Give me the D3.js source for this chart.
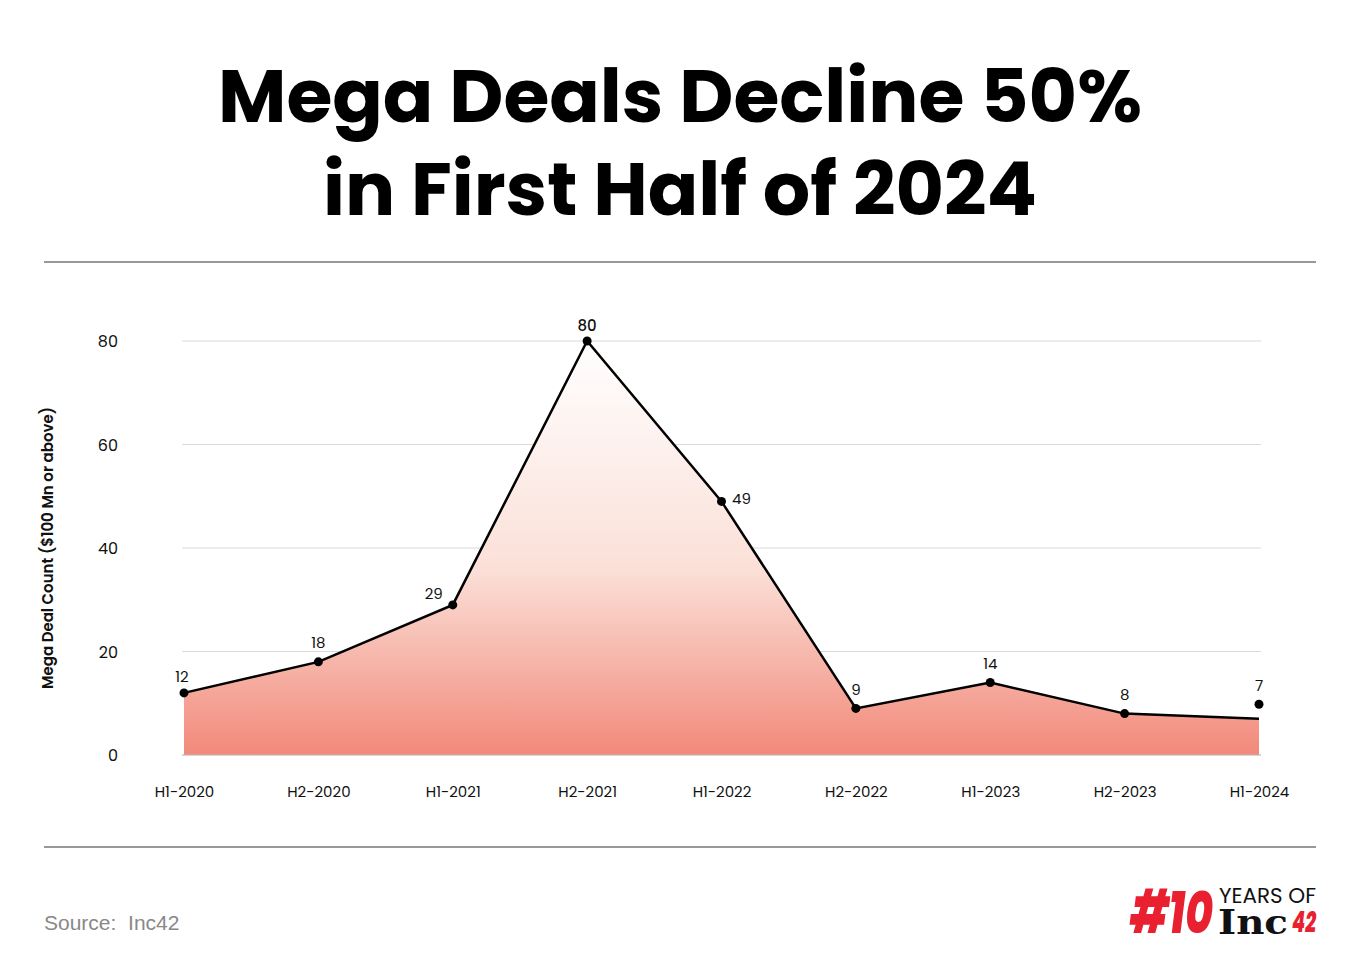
<!DOCTYPE html>
<html><head><meta charset="utf-8">
<script src="https://cdn.jsdelivr.net/npm/d3@7"></script>
<style>body{margin:0;background:#fff;} svg{display:block;}</style>
</head><body>
<script>
const categories = ["H1-2020","H2-2020","H1-2021","H2-2021","H1-2022","H2-2022","H1-2023","H2-2023","H1-2024"];
const values = [12,18,29,80,49,9,14,8,7];
const markerValues = [12,18,29,80,49,9,14,8,9.8];
const labelPlacement = ["above","above","left","above","right","above","above","above","above"];
const yTicks = [0,20,40,60,80];
const titleLines = ["Mega Deals Decline 50%","in First Half of 2024"];

const W=1360,H=967;
const svg=d3.select("body").append("svg").attr("width",W).attr("height",H);
const font="Poppins, Inter, 'DejaVu Sans', sans-serif";

svg.selectAll("text.title").data(titleLines).join("text")
  .attr("x",680).attr("y",(d,i)=>122+i*93).attr("text-anchor","middle")
  .attr("font-family",font).attr("font-weight",700).attr("font-size",74.5)
  .attr("fill","#000").text(d=>d);

svg.append("line").attr("x1",44).attr("x2",1316).attr("y1",262).attr("y2",262).attr("stroke","#333").attr("stroke-width",1.2);
svg.append("line").attr("x1",44).attr("x2",1316).attr("y1",847).attr("y2",847).attr("stroke","#333").attr("stroke-width",1.2);

const x=d3.scalePoint().domain(categories).range([184,1259]);
const y=d3.scaleLinear().domain([0,80]).range([755,341]);

const defs=svg.append("defs");
const g=defs.append("linearGradient").attr("id","grad").attr("gradientUnits","userSpaceOnUse")
  .attr("x1",0).attr("x2",0).attr("y1",y(80)).attr("y2",y(0));
g.append("stop").attr("offset","0%").attr("stop-color","#ffffff");
g.append("stop").attr("offset","55%").attr("stop-color","#fbe0d8");
g.append("stop").attr("offset","100%").attr("stop-color","#f2897a");

svg.selectAll("line.grid").data(yTicks).join("line")
  .attr("x1",182).attr("x2",1261).attr("y1",d=>y(d)).attr("y2",d=>y(d))
  .attr("stroke","#d9d9d9").attr("stroke-width",1);

const yAxis=svg.append("g").attr("transform","translate(118,0)")
  .call(d3.axisLeft(y).tickValues(yTicks).tickSize(0).tickPadding(0));
yAxis.select(".domain").remove();
yAxis.selectAll("text").attr("font-family",font).attr("font-size",16).attr("fill","#111").attr("text-anchor","end").attr("dy","0.35em");

const area=d3.area().x((d,i)=>x(categories[i])).y0(y(0)).y1(d=>y(d));
svg.append("path").datum(values).attr("d",area).attr("fill","url(#grad)");
svg.append("line").attr("x1",182).attr("x2",1261).attr("y1",y(0)).attr("y2",y(0)).attr("stroke","#bbb").attr("stroke-width",1);

const line=d3.line().x((d,i)=>x(categories[i])).y(d=>y(d));
svg.append("path").datum(values).attr("d",line).attr("fill","none").attr("stroke","#000").attr("stroke-width",2.5);

svg.selectAll("circle.pt").data(markerValues).join("circle")
  .attr("cx",(d,i)=>x(categories[i])).attr("cy",d=>y(d)).attr("r",4.5).attr("fill","#000");

svg.selectAll("text.lbl").data(values).join("text")
  .attr("x",(d,i)=>{const p=labelPlacement[i];const cx=x(categories[i]);return p==="left"?cx-19:p==="right"?cx+20:cx+(i===0?-2:0);})
  .attr("y",(d,i)=>{const p=labelPlacement[i];const cy=y(markerValues[i]);return p==="left"?cy-11:p==="right"?cy-3:cy-(i===0?16:i===3?15:19);})
  .attr("text-anchor","middle").attr("dy","0.35em")
  .attr("font-family",font).attr("font-size",15).attr("font-weight",(d,i)=>i===3?500:400).attr("fill","#111")
  .text(d=>d);

const xAxis=svg.append("g").attr("transform","translate(0,792)")
  .call(d3.axisBottom(x).tickSize(0).tickPadding(0));
xAxis.select(".domain").remove();
xAxis.selectAll("text").attr("font-family",font).attr("font-size",15).attr("fill","#111").attr("dy","0.35em");

svg.append("text").attr("transform","translate(53,548) rotate(-90)").attr("text-anchor","middle")
  .attr("font-family",font).attr("font-weight",600).attr("font-size",15).attr("fill","#111")
  .text("Mega Deal Count ($100 Mn or above)");

svg.append("text").attr("x",44).attr("y",930).attr("font-family","'Liberation Sans', Arial, sans-serif")
  .attr("font-size",21).attr("fill","#888").attr("xml:space","preserve").text("Source:  Inc42");

// logo as a single text element with positioned tspans
const logo=svg.append("text").attr("font-family","Poppins, Inter, sans-serif");
logo.append("tspan").attr("x",1130).attr("y",933)
  .attr("font-weight",800).attr("font-size",60).attr("fill","#e8202f").attr("font-style","italic")
  .attr("textLength",83).attr("lengthAdjust","spacingAndGlyphs").text("#10");
logo.append("tspan").attr("x",1219).attr("y",903).attr("font-weight",400).attr("font-style","normal").attr("font-size",22)
  .attr("fill","#111").attr("textLength",97).attr("lengthAdjust","spacingAndGlyphs").text("YEARS OF");
logo.append("tspan").attr("x",1218).attr("y",934).attr("font-family","'DejaVu Serif', serif").attr("font-weight",700)
  .attr("font-style","normal").attr("font-size",34).attr("fill","#111").attr("textLength",70).attr("lengthAdjust","spacingAndGlyphs").text("Inc");
logo.append("tspan").attr("x",1292).attr("y",932).attr("font-weight",800)
  .attr("font-size",30).attr("fill","#e8202f").attr("font-style","italic")
  .attr("textLength",24).attr("lengthAdjust","spacingAndGlyphs").text("42");
</script>
</body></html>
